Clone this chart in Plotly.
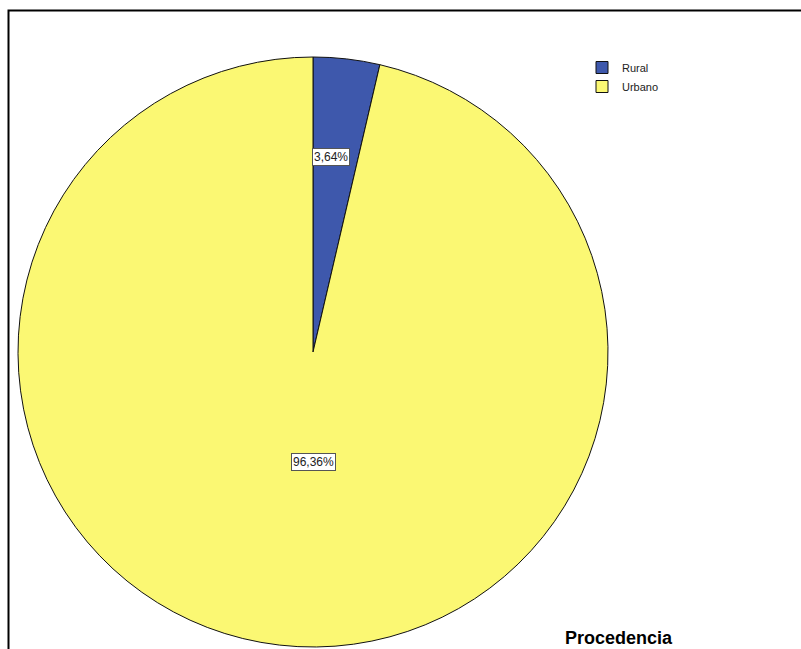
import plotly.graph_objects as go

# Procedencia de los casos (porcentaje)
categories = ["Rural", "Urbano"]
percentages = [3.64, 96.36]
colors = ["#3E58AC", "#FBF873"]

W, H = 801, 649
# pie geometry in pixels
cx, cy, r = 313, 352, 295
# centre of each value box, in pixels
label_pos = [(331, 157), (313, 462)]

fig = go.Figure()

fig.add_trace(go.Pie(
    labels=categories,
    values=percentages,
    sort=False,
    direction="clockwise",
    rotation=0,
    marker=dict(colors=colors, line=dict(color="#111111", width=1)),
    textinfo="none",
    hoverinfo="label+percent",
    domain=dict(x=[(cx - r) / W, (cx + r) / W],
                y=[1 - (cy + r) / H, 1 - (cy - r) / H]),
))

# value boxes
for v, (px, py) in zip(percentages, label_pos):
    fig.add_annotation(
        x=px / W, y=1 - py / H, xref="paper", yref="paper",
        xanchor="center", yanchor="middle",
        text=f"{v:.2f}".replace(".", ",") + "%",
        showarrow=False,
        font=dict(family="Liberation Sans, Arial, sans-serif", size=12, color="#222222"),
        bgcolor="white", bordercolor="#555555", borderwidth=1, borderpad=1,
    )

# chart title at the lower right
fig.add_annotation(
    x=619 / W, y=1 - 638 / H, xref="paper", yref="paper",
    xanchor="center", yanchor="middle",
    text="<b>Procedencia</b>", showarrow=False,
    font=dict(family="Liberation Sans, Arial, sans-serif", size=18, color="black"),
)

# outer frame
fig.add_shape(type="rect", xref="paper", yref="paper",
              x0=8.5 / W, x1=1.05, y0=-0.05, y1=1 - 10.5 / H,
              line=dict(color="black", width=2))

fig.update_layout(
    width=W, height=H,
    margin=dict(l=0, r=0, t=0, b=0),
    paper_bgcolor="white",
    plot_bgcolor="white",
    showlegend=True,
    legend=dict(
        x=582 / W, y=1 - 53 / H, xanchor="left", yanchor="top",
        font=dict(family="Liberation Sans, Arial, sans-serif", size=11, color="#222222"),
        bgcolor="rgba(0,0,0,0)", itemwidth=30, tracegroupgap=0,
    ),
)

fig.write_html("out.html")
